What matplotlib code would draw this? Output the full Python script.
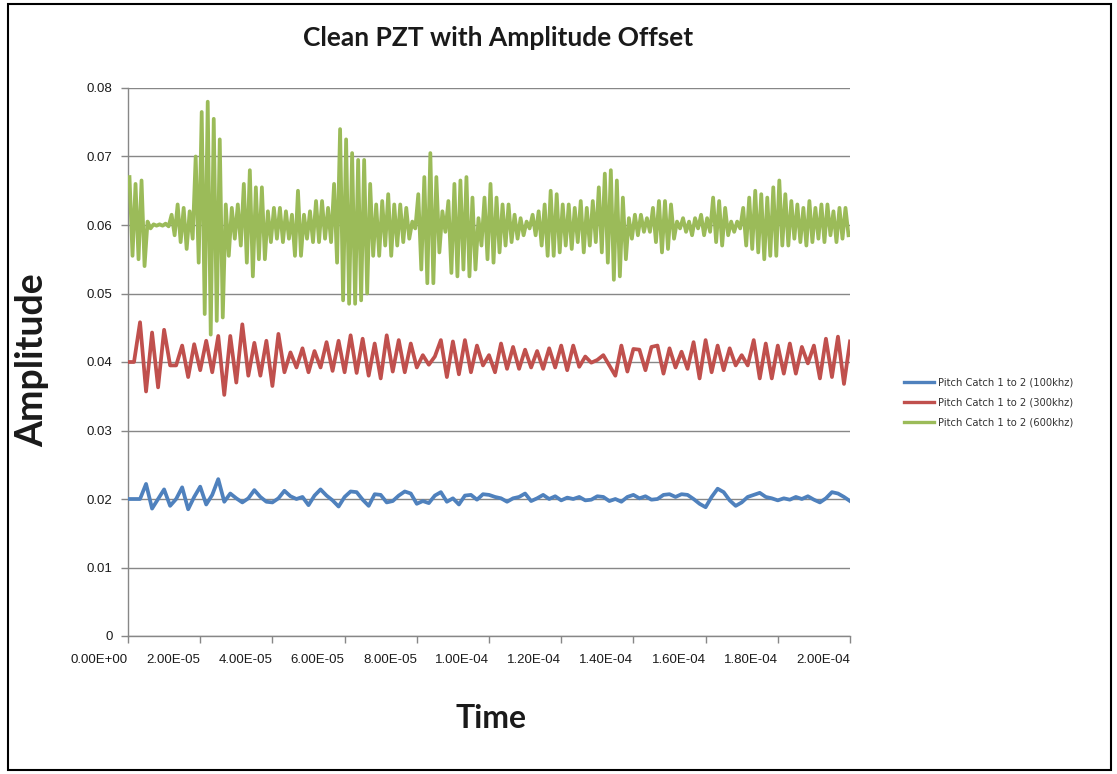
import numpy as np
import matplotlib
matplotlib.use("Agg")
import matplotlib.pyplot as plt
from matplotlib.ticker import FuncFormatter
from matplotlib.patches import Rectangle
from matplotlib.lines import Line2D

# ---------------- data ----------------
T_END = 2.0e-4
title = "Clean PZT with Amplitude Offset"
series_names = ["Pitch Catch 1 to 2 (100khz)",
                "Pitch Catch 1 to 2 (300khz)",
                "Pitch Catch 1 to 2 (600khz)"]
x_ticks = [0.0, 2e-5, 4e-5, 6e-5, 8e-5, 1e-4, 1.2e-4, 1.4e-4, 1.6e-4, 1.8e-4, 2e-4]
y_ticks = [0, 0.01, 0.02, 0.03, 0.04, 0.05, 0.06, 0.07, 0.08]

# 600 kHz: per-cycle maxima / minima (120 cycles over 0..2e-4 s)
green_hi = [0.0670, 0.0660, 0.0665, 0.0605, 0.0601, 0.0601, 0.0602, 0.0615, 0.0630, 0.0625,
            0.0620, 0.0700, 0.0765, 0.0780, 0.0755, 0.0725, 0.0630, 0.0625, 0.0630, 0.0660,
            0.0680, 0.0655, 0.0655, 0.0620, 0.0625, 0.0625, 0.0620, 0.0615, 0.0650, 0.0615,
            0.0620, 0.0635, 0.0635, 0.0625, 0.0660, 0.0740, 0.0725, 0.0705, 0.0695, 0.0695,
            0.0660, 0.0630, 0.0635, 0.0645, 0.0630, 0.0630, 0.0625, 0.0605, 0.0645, 0.0670,
            0.0705, 0.0670, 0.0620, 0.0635, 0.0660, 0.0665, 0.0670, 0.0640, 0.0610, 0.0640,
            0.0660, 0.0640, 0.0630, 0.0630, 0.0615, 0.0610, 0.0605, 0.0615, 0.0620, 0.0630,
            0.0650, 0.0645, 0.0630, 0.0630, 0.0625, 0.0635, 0.0625, 0.0635, 0.0655, 0.0675,
            0.0680, 0.0665, 0.0640, 0.0610, 0.0615, 0.0615, 0.0610, 0.0625, 0.0635, 0.0635,
            0.0630, 0.0605, 0.0610, 0.0605, 0.0610, 0.0615, 0.0610, 0.0640, 0.0635, 0.0625,
            0.0605, 0.0605, 0.0625, 0.0640, 0.0650, 0.0645, 0.0640, 0.0655, 0.0665, 0.0645,
            0.0635, 0.0630, 0.0625, 0.0635, 0.0625, 0.0630, 0.0630, 0.0620, 0.0625, 0.0625]
green_lo = [0.0555, 0.0550, 0.0540, 0.0595, 0.0599, 0.0599, 0.0598, 0.0585, 0.0575, 0.0565,
            0.0580, 0.0545, 0.0470, 0.0440, 0.0460, 0.0465, 0.0555, 0.0580, 0.0570, 0.0545,
            0.0525, 0.0550, 0.0550, 0.0575, 0.0580, 0.0575, 0.0580, 0.0555, 0.0555, 0.0580,
            0.0575, 0.0575, 0.0580, 0.0575, 0.0545, 0.0490, 0.0485, 0.0485, 0.0490, 0.0500,
            0.0555, 0.0555, 0.0570, 0.0555, 0.0570, 0.0575, 0.0580, 0.0595, 0.0535, 0.0515,
            0.0515, 0.0560, 0.0590, 0.0530, 0.0525, 0.0535, 0.0525, 0.0535, 0.0570, 0.0550,
            0.0545, 0.0560, 0.0570, 0.0575, 0.0580, 0.0585, 0.0595, 0.0585, 0.0570, 0.0555,
            0.0555, 0.0560, 0.0570, 0.0565, 0.0575, 0.0560, 0.0570, 0.0575, 0.0560, 0.0545,
            0.0520, 0.0525, 0.0550, 0.0580, 0.0585, 0.0590, 0.0590, 0.0575, 0.0560, 0.0565,
            0.0580, 0.0595, 0.0590, 0.0585, 0.0595, 0.0585, 0.0590, 0.0575, 0.0570, 0.0585,
            0.0590, 0.0595, 0.0570, 0.0565, 0.0560, 0.0550, 0.0555, 0.0555, 0.0570, 0.0570,
            0.0580, 0.0575, 0.0570, 0.0575, 0.0580, 0.0575, 0.0585, 0.0575, 0.0580, 0.0585]

# 300 kHz: samples every half-cycle (121 points over 0..2e-4 s)
red_vals = [0.0400, 0.0400, 0.0458, 0.0357, 0.0443, 0.0363, 0.0447, 0.0395, 0.0395, 0.0424,
            0.0378, 0.0426, 0.0388, 0.0431, 0.0385, 0.0438, 0.0352, 0.0438, 0.0370, 0.0455,
            0.0380, 0.0428, 0.0380, 0.0431, 0.0365, 0.0441, 0.0385, 0.0414, 0.0392, 0.0420,
            0.0385, 0.0416, 0.0392, 0.0429, 0.0387, 0.0431, 0.0385, 0.0439, 0.0384, 0.0434,
            0.0380, 0.0427, 0.0376, 0.0439, 0.0386, 0.0432, 0.0385, 0.0427, 0.0392, 0.0410,
            0.0396, 0.0408, 0.0432, 0.0378, 0.0430, 0.0382, 0.0432, 0.0385, 0.0424, 0.0395,
            0.0410, 0.0385, 0.0427, 0.0390, 0.0422, 0.0390, 0.0418, 0.0392, 0.0416, 0.0390,
            0.0420, 0.0392, 0.0424, 0.0388, 0.0424, 0.0393, 0.0408, 0.0399, 0.0403, 0.0410,
            0.0395, 0.0380, 0.0424, 0.0386, 0.0419, 0.0418, 0.0388, 0.0422, 0.0424, 0.0383,
            0.0420, 0.0392, 0.0415, 0.0390, 0.0429, 0.0376, 0.0432, 0.0385, 0.0424, 0.0388,
            0.0420, 0.0395, 0.0410, 0.0395, 0.0432, 0.0376, 0.0427, 0.0376, 0.0424, 0.0383,
            0.0427, 0.0383, 0.0422, 0.0398, 0.0424, 0.0376, 0.0434, 0.0378, 0.0437, 0.0368,
            0.0430]

# 100 kHz: samples on the same 121-point grid
blue_vals = [0.0200, 0.0200, 0.0200, 0.0222, 0.0186, 0.0200, 0.0214, 0.0190, 0.0200, 0.0217,
             0.0185, 0.0203, 0.0218, 0.0192, 0.0206, 0.0229, 0.0196, 0.0208, 0.0201, 0.0195,
             0.0201, 0.0213, 0.0203, 0.0196, 0.0195, 0.0201, 0.0212, 0.0204, 0.0200, 0.0203,
             0.0191, 0.0205, 0.0214, 0.0205, 0.0198, 0.0189, 0.0203, 0.0211, 0.0210, 0.0199,
             0.0190, 0.0207, 0.0206, 0.0195, 0.0197, 0.0205, 0.0211, 0.0208, 0.0193, 0.0197,
             0.0194, 0.0205, 0.0210, 0.0196, 0.0201, 0.0192, 0.0205, 0.0206, 0.0199, 0.0207,
             0.0206, 0.0203, 0.0201, 0.0196, 0.0201, 0.0203, 0.0208, 0.0197, 0.0201, 0.0206,
             0.0200, 0.0204, 0.0198, 0.0202, 0.0200, 0.0203, 0.0198, 0.0199, 0.0204, 0.0203,
             0.0197, 0.0200, 0.0196, 0.0203, 0.0206, 0.0201, 0.0204, 0.0199, 0.0200, 0.0206,
             0.0207, 0.0203, 0.0207, 0.0206, 0.0200, 0.0193, 0.0188, 0.0203, 0.0215, 0.0210,
             0.0198, 0.0190, 0.0195, 0.0203, 0.0206, 0.0209, 0.0203, 0.0201, 0.0198, 0.0201,
             0.0199, 0.0203, 0.0200, 0.0204, 0.0199, 0.0195, 0.0201, 0.0210, 0.0208, 0.0203,
             0.0197]

colors = ["#4F81BD", "#C0504D", "#9BBB59"]

# ---------------- build series ----------------
n_g = len(green_hi)
dt_g = T_END / (2 * n_g)
t_green = (np.arange(2 * n_g) + 0.5) * dt_g
y_green = np.column_stack([green_hi, green_lo]).ravel()

t_grid = np.linspace(0, T_END, len(red_vals))

# ---------------- figure ----------------
W, H = 1117, 774
fig = plt.figure(figsize=(W / 100, H / 100), dpi=100)
fig.patch.set_facecolor("white")
ax = fig.add_axes([128 / W, 1 - 636 / H, (850 - 128) / W, (636 - 88) / H])

lw = 2.7
ax.plot(t_grid, blue_vals, color=colors[0], lw=lw, solid_joinstyle="round", zorder=3)
ax.plot(t_grid, red_vals, color=colors[1], lw=lw, solid_joinstyle="round", zorder=3)
ax.plot(t_green, y_green, color=colors[2], lw=lw, solid_joinstyle="round", zorder=3)

ax.set_xlim(0, T_END)
ax.set_ylim(0, 0.08)
ax.set_yticks(y_ticks)
ax.set_xticks(x_ticks)

ax.yaxis.set_major_formatter(FuncFormatter(lambda v, p: "0" if abs(v) < 1e-12 else f"{v:.2f}"))
ax.xaxis.set_major_formatter(FuncFormatter(lambda v, p: f"{v:.2E}"))

ax.grid(axis="y", color="#878787", lw=1.0, zorder=1)
for s in ["top", "right"]:
    ax.spines[s].set_visible(False)
for s in ["left", "bottom"]:
    ax.spines[s].set_color("#878787")
    ax.spines[s].set_linewidth(1.0)
ax.tick_params(axis="both", colors="#878787", length=5, width=1.0, direction="out")
tick_font = ["Liberation Sans Narrow", "Liberation Sans", "DejaVu Sans"]
for lab in ax.get_yticklabels():
    lab.set_family(tick_font); lab.set_fontsize(9.5); lab.set_color("#1a1a1a")
for lab in ax.get_xticklabels():
    lab.set_family(tick_font); lab.set_fontsize(9.5); lab.set_color("#1a1a1a")
    lab.set_horizontalalignment("right")
ax.tick_params(axis="x", pad=8)
ax.tick_params(axis="y", pad=6)

fig.text(498 / W, 1 - 38 / H, title, ha="center", va="center",
         fontsize=19, fontweight="bold", family=["Lato", "DejaVu Sans"], color="#1a1a1a")
fig.text(32 / W, 1 - 360 / H, "Amplitude", ha="center", va="center", rotation=90,
         fontsize=27, fontweight="bold", family=["Lato", "DejaVu Sans"], color="#1a1a1a")
fig.text(491 / W, 1 - 718 / H, "Time", ha="center", va="center",
         fontsize=23, fontweight="bold", family=["Lato", "DejaVu Sans"], color="#1a1a1a")

handles = [Line2D([0], [0], color=c, lw=2.4) for c in colors]
leg = fig.legend(handles, series_names, loc="center left",
                 bbox_to_anchor=(895 / W, 1 - 403 / H), frameon=False,
                 prop={"family": "DejaVu Sans", "size": 7.2},
                 handlelength=3.0, handletextpad=0.4, labelspacing=1.0)
for t in leg.get_texts():
    t.set_color("#333333")

fig.patches.append(Rectangle((8 / W, 4 / H), (1111 - 8) / W, (770 - 4) / H,
                             transform=fig.transFigure, fill=False,
                             edgecolor="black", lw=1.5))

fig.savefig("out.png", dpi=100, facecolor="white")
